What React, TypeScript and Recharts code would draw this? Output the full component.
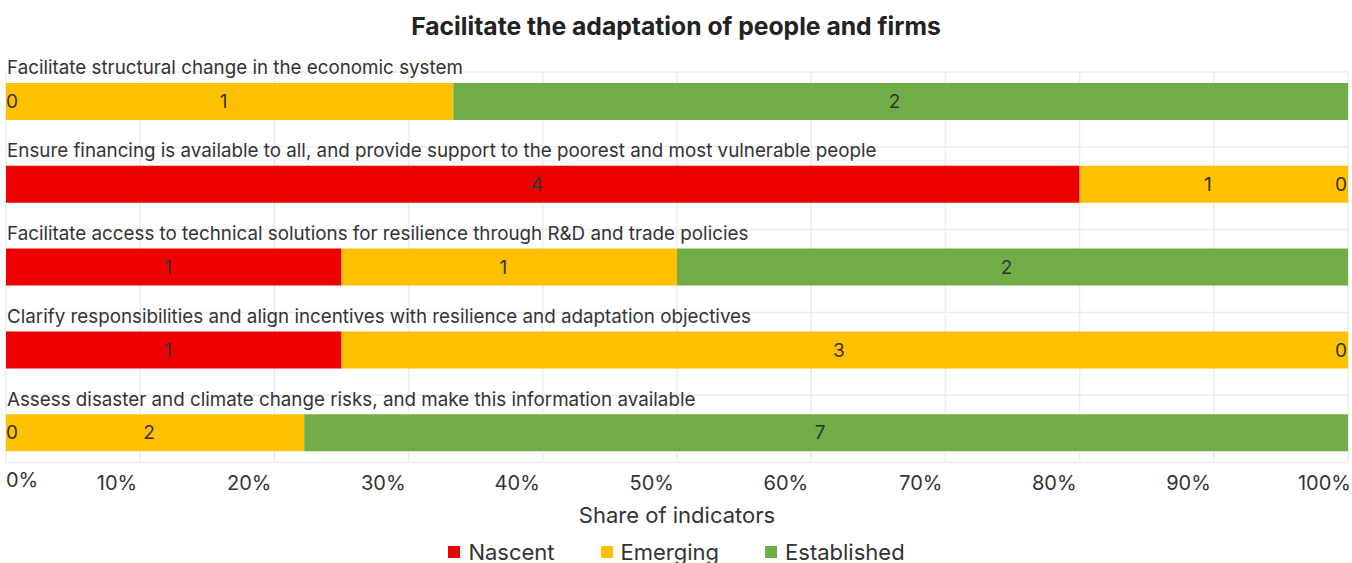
import { BarChart, Bar, XAxis, YAxis, CartesianGrid, Legend, LabelList } from 'recharts';

const categories = [
  'Facilitate structural change in the economic system',
  'Ensure financing is available to all, and provide support to the poorest and most vulnerable people',
  'Facilitate access to technical solutions for resilience through R&D and trade policies',
  'Clarify responsibilities and align incentives with resilience and adaptation objectives',
  'Assess disaster and climate change risks, and make this information available',
];
const nascent = [0, 4, 1, 1, 0];
const emerging = [1, 1, 1, 3, 2];
const established = [2, 0, 2, 0, 7];
const xTicks = [0, 0.1, 0.2, 0.3, 0.4, 0.5, 0.6, 0.7, 0.8, 0.9, 1];

const series = [
  { key: 'nascent', name: 'Nascent', color: '#EE0000', values: nascent },
  { key: 'emerging', name: 'Emerging', color: '#FFC000', values: emerging },
  { key: 'established', name: 'Established', color: '#70AD47', values: established },
];

const data = categories.map((name, i) => ({
  name,
  row: i,
  nascent: nascent[i],
  emerging: emerging[i],
  established: established[i],
}));

const FONT = 'Inter, "Noto Sans", sans-serif';
const TEXT = '#333333';
const GRID = '#ececec';

function XTick(props: any) {
  const { x, y, payload } = props;
  const v = payload.value;
  let anchor = 'end';
  let dx = -3;
  let dy = 8;
  if (v === 0) {
    anchor = 'start';
    dx = 0;
    dy = 5;
  } else if (v === 1) {
    dx = 3;
  }
  return (
    <text x={x + dx} y={y + dy} textAnchor={anchor} fontSize={20} fill={TEXT} fontFamily={FONT}>
      {`${Math.round(v * 100)}%`}
    </text>
  );
}

function CategoryTick(props: any) {
  const { y, payload } = props;
  return (
    <text x={7} y={y - 27} textAnchor="start" fontSize={18.8} fill={TEXT} fontFamily={FONT}>
      {payload.value}
    </text>
  );
}

function AxisTitle(props: any) {
  const vb = props.viewBox;
  return (
    <text x={vb.x + vb.width / 2} y={vb.y + 49} textAnchor="middle" fontSize={22} fill={TEXT} fontFamily={FONT}>
      Share of indicators
    </text>
  );
}

// Zero-width segments get no label from Recharts, so the neighbouring
// segment writes their "0" at its own edge. The label value is the row index.
function makeLabel(k: number) {
  return (props: any) => {
    const vb = props.viewBox ?? props;
    const x = vb.x ?? props.x;
    const y = vb.y ?? props.y;
    const width = vb.width ?? props.width ?? 0;
    const height = vb.height ?? props.height ?? 0;
    const i = Number(props.value);
    const value = series[k].values[i];
    if (!value) return null;
    const cy = y + height / 2;
    const common = { y: cy, dy: '0.35em', fontSize: 19, fill: TEXT, fontFamily: FONT };
    const prev = series[k - 1];
    const next = series[k + 1];
    const prevPrev = series[k - 2];
    const showLeftZero = prev && prev.values[i] === 0 && (!prevPrev || prevPrev.values[i] === 0);
    const showRightZero = next && next.values[i] === 0;
    return (
      <g>
        <text x={x + width / 2 - 6} textAnchor="middle" {...common}>
          {value}
        </text>
        {showLeftZero && (
          <text x={x} textAnchor="start" {...common}>
            0
          </text>
        )}
        {showRightZero && (
          <text x={x + width - 1} textAnchor="end" {...common}>
            0
          </text>
        )}
      </g>
    );
  };
}

function LegendContent() {
  return (
    <div style={{ height: 37, paddingTop: 14, boxSizing: 'border-box', display: 'flex', justifyContent: 'center', gap: 46, fontFamily: FONT, fontSize: 22, color: TEXT, lineHeight: '22px' }}>
      {series.map((s) => (
        <div key={s.key} style={{ display: 'flex', alignItems: 'center' }}>
          <span style={{ width: 12, height: 12, background: s.color, display: 'inline-block', marginRight: 8 }} />
          <span>{s.name}</span>
        </div>
      ))}
    </div>
  );
}

function gridRows({ offset }: any) {
  const n = categories.length;
  const band = offset.height / n;
  const lines = [offset.top + 12];
  for (let i = 1; i < n; i++) lines.push(offset.top + band * i + 4);
  lines.push(offset.top + offset.height - 11.5);
  return lines;
}

function VerticalLine(props: any) {
  return (
    <line
      key={`v-${props.index}`}
      x1={props.x1}
      x2={props.x2}
      y1={props.y1 + 12}
      y2={props.y2 - 11.5}
      stroke={GRID}
      strokeWidth={1.5}
    />
  );
}

export default function App() {
  return (
    <div style={{ position: 'absolute', left: 0, top: 0, width: 1352, height: 563, background: '#fff' }}>
      <div
        style={{
          position: 'absolute',
          top: 11,
          left: 0,
          width: 1352,
          textAlign: 'center',
          fontFamily: FONT,
          fontWeight: 700,
          fontSize: 24.7,
          color: '#222',
        }}
      >
        Facilitate the adaptation of people and firms
      </div>
      <BarChart
        width={1352}
        height={563}
        data={data}
        layout="vertical"
        stackOffset="expand"
        margin={{ top: 60, right: 4, left: 5, bottom: 0 }}
      >
        <CartesianGrid
          stroke={GRID}
          strokeWidth={1.5}
          horizontalCoordinatesGenerator={gridRows}
          vertical={VerticalLine}
        />
        <XAxis
          type="number"
          domain={[0, 1]}
          ticks={xTicks}
          interval={0}
          axisLine={false}
          tickLine={false}
          height={52}
          tick={XTick}
          label={AxisTitle}
        />
        <YAxis
          type="category"
          dataKey="name"
          width={1}
          interval={0}
          axisLine={false}
          tickLine={false}
          tick={CategoryTick}
        />
        <Legend verticalAlign="bottom" content={LegendContent} />
        {series.map((s, k) => (
          <Bar key={s.key} dataKey={s.key} name={s.name} stackId="a" fill={s.color} barSize={37} isAnimationActive={false}>
            <LabelList dataKey="row" content={makeLabel(k)} />
          </Bar>
        ))}
      </BarChart>
    </div>
  );
}
